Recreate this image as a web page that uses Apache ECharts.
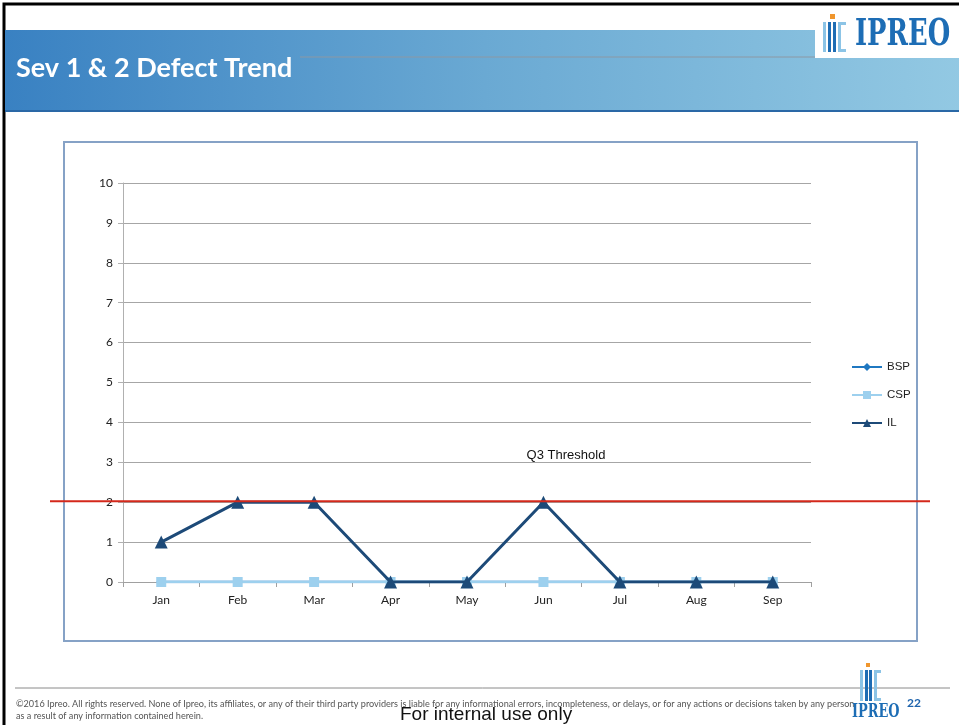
<!DOCTYPE html>
<html>
<head>
<meta charset="utf-8">
<script src="https://cdn.jsdelivr.net/npm/echarts@6/dist/echarts.min.js"></script>
<style>
  html, body { margin: 0; padding: 0; background: #fff; }
  #chart { width: 959px; height: 725px; }
</style>
</head>
<body>
<div id="chart"></div>
<script>
// Monthly Sev 1 & 2 defect counts per product line
const months = ['Jan', 'Feb', 'Mar', 'Apr', 'May', 'Jun', 'Jul', 'Aug', 'Sep'];
const bspDefects = [0, 0, 0, 0, 0, 0, 0, 0, 0];
const cspDefects = [0, 0, 0, 0, 0, 0, 0, 0, 0];
const ilDefects = [1, 2, 2, 0, 0, 2, 0, 0, 0];
const yTicks = [0, 1, 2, 3, 4, 5, 6, 7, 8, 9, 10];
const thresholdValue = 2;
const thresholdLabel = 'Q3 Threshold';

const chart = echarts.init(document.getElementById('chart'));

const sans = 'Lato, "Open Sans", sans-serif';

// Slide frame, header band, logos and footer
function slideGraphics() {
  return [
    // outer frame
    { type: 'rect', shape: { x: 4, y: 4, width: 1000, height: 800 }, style: { fill: 'none', stroke: '#000', lineWidth: 3 }, z: 1 },
    // header band
    { type: 'rect', shape: { x: 5, y: 30, width: 960, height: 81 },
      style: { fill: new echarts.graphic.LinearGradient(0, 0, 1, 0, [
        { offset: 0, color: '#3981c2' }, { offset: 0.5, color: '#6aa9d3' }, { offset: 1, color: '#93c9e3' }]) }, z: 1 },
    { type: 'line', shape: { x1: 5, y1: 111, x2: 959, y2: 111 }, style: { stroke: '#2a68a6', lineWidth: 2 }, z: 2 },
    { type: 'line', shape: { x1: 300, y1: 57, x2: 950, y2: 57 }, style: { stroke: '#8c98a4', lineWidth: 1 }, z: 2 },
    { type: 'text', x: 16, y: 68, style: { text: 'Sev 1 & 2 Defect Trend', fill: '#fff', font: 'bold 27px ' + sans, textVerticalAlign: 'middle' }, z: 3 },
    // header logo
    { type: 'rect', shape: { x: 815, y: 12, width: 144, height: 46 }, style: { fill: '#fff' }, z: 3 },
    { type: 'rect', shape: { x: 830, y: 14, width: 5, height: 5 }, style: { fill: '#f0962d' }, z: 4 },
    { type: 'rect', shape: { x: 823, y: 22, width: 3, height: 30 }, style: { fill: '#8cc4e6' }, z: 4 },
    { type: 'rect', shape: { x: 828, y: 22, width: 3, height: 30 }, style: { fill: '#1e6db4' }, z: 4 },
    { type: 'rect', shape: { x: 833, y: 22, width: 3, height: 30 }, style: { fill: '#1e6db4' }, z: 4 },
    { type: 'rect', shape: { x: 838, y: 22, width: 3, height: 30 }, style: { fill: '#8cc4e6' }, z: 4 },
    { type: 'rect', shape: { x: 838, y: 22, width: 8, height: 3 }, style: { fill: '#8cc4e6' }, z: 4 },
    { type: 'rect', shape: { x: 838, y: 49, width: 8, height: 3 }, style: { fill: '#8cc4e6' }, z: 4 },
    { type: 'text', x: 855, y: 35, style: { text: 'IPREO', fill: '#1d6db5', font: 'bold 38px "DejaVu Serif"', textVerticalAlign: 'middle' }, scaleX: 0.68, z: 4 },
    // chart frame
    { type: 'rect', shape: { x: 64, y: 142, width: 853, height: 499 }, style: { fill: 'none', stroke: '#86a2c6', lineWidth: 2 }, z: 1 },
    // footer
    { type: 'line', shape: { x1: 15, y1: 688, x2: 950, y2: 688 }, style: { stroke: '#8a8a8a', lineWidth: 1 }, z: 2 },
    { type: 'text', x: 16, y: 704, style: { text: '©2016 Ipreo. All rights reserved. None of Ipreo, its affiliates, or any of their third party providers is liable for any informational errors, incompleteness, or delays, or for any actions or decisions taken by any person', fill: '#555', font: '9.1px ' + sans, textVerticalAlign: 'middle' }, z: 3 },
    { type: 'text', x: 16, y: 716, style: { text: 'as a result of any information contained herein.', fill: '#555', font: '9.1px ' + sans, textVerticalAlign: 'middle' }, z: 3 },
    { type: 'text', x: 400, y: 715, style: { text: 'For internal use only', fill: '#111', font: '19px "Liberation Sans"', textVerticalAlign: 'middle' }, z: 3 },
    { type: 'text', x: 907, y: 703, style: { text: '22', fill: '#1f64ad', font: 'bold 12px ' + sans, textVerticalAlign: 'middle' }, z: 5 },
    // footer logo
    { type: 'rect', shape: { x: 866, y: 663, width: 4, height: 4 }, style: { fill: '#f0962d' }, z: 4 },
    { type: 'rect', shape: { x: 860, y: 670, width: 3, height: 31 }, style: { fill: '#8cc4e6' }, z: 4 },
    { type: 'rect', shape: { x: 865, y: 670, width: 3, height: 31 }, style: { fill: '#1e6db4' }, z: 4 },
    { type: 'rect', shape: { x: 869, y: 670, width: 3, height: 31 }, style: { fill: '#1e6db4' }, z: 4 },
    { type: 'rect', shape: { x: 874, y: 670, width: 3, height: 31 }, style: { fill: '#8cc4e6' }, z: 4 },
    { type: 'rect', shape: { x: 874, y: 670, width: 7, height: 3 }, style: { fill: '#8cc4e6' }, z: 4 },
    { type: 'rect', shape: { x: 874, y: 698, width: 7, height: 3 }, style: { fill: '#8cc4e6' }, z: 4 },
    { type: 'text', x: 852, y: 712, style: { text: 'IPREO', fill: '#1d6db5', font: 'bold 19px "DejaVu Serif"', textVerticalAlign: 'middle' }, scaleX: 0.68, z: 4 }
  ];
}

chart.setOption({
  animation: false,
  backgroundColor: '#fff',
  textStyle: { fontFamily: sans },
  grid: { left: 123, right: 148, top: 183, bottom: 143 },
  legend: {
    orient: 'vertical',
    left: 846,
    top: 356,
    itemGap: 16,
    itemWidth: 30,
    itemHeight: 10,
    textStyle: { fontSize: 11.5, color: '#222', fontFamily: '"Liberation Sans", sans-serif' },
    data: ['BSP', 'CSP', 'IL']
  },
  xAxis: {
    type: 'category',
    data: months,
    boundaryGap: true,
    axisLine: { lineStyle: { color: '#a0a0a0', width: 1 } },
    axisTick: { show: true, length: 5, lineStyle: { color: '#a0a0a0' } },
    axisLabel: { color: '#222', fontSize: 12, margin: 12 }
  },
  yAxis: {
    type: 'value',
    min: yTicks[0],
    max: yTicks[yTicks.length - 1],
    interval: 1,
    axisLine: { show: true, lineStyle: { color: '#b0b0b0' } },
    axisTick: { show: true, length: 5, lineStyle: { color: '#b0b0b0' } },
    axisLabel: { color: '#222', fontSize: 12, margin: 10 },
    splitLine: { lineStyle: { color: '#a6a6a6', width: 1 } }
  },
  series: [
    { name: 'BSP', type: 'line', data: bspDefects, symbol: 'diamond', symbolSize: 10,
      itemStyle: { color: '#1f78c1' }, lineStyle: { color: '#1f78c1', width: 2.5 }, z: 2 },
    { name: 'CSP', type: 'line', data: cspDefects, symbol: 'rect', symbolSize: 10,
      itemStyle: { color: '#9dd0ee' }, lineStyle: { color: '#9dd0ee', width: 2.5 }, z: 3 },
    { name: 'IL', type: 'line', data: ilDefects, symbol: 'triangle', symbolSize: 13,
      itemStyle: { color: '#1d4a78' }, lineStyle: { color: '#1d4a78', width: 3 }, z: 4 }
  ],
  graphic: slideGraphics()
});

// Threshold line spans past the plot frame; position it from the y scale
const yPix = chart.convertToPixel({ yAxisIndex: 0 }, thresholdValue);
chart.setOption({
  graphic: slideGraphics().concat([
    { type: 'line', shape: { x1: 50, y1: yPix - 1, x2: 930, y2: yPix - 1 }, style: { stroke: '#d4281b', lineWidth: 2 }, z: 10 },
    { type: 'text', x: 566, y: 455, style: { text: thresholdLabel, fill: '#111', font: '13px "Liberation Sans"', textAlign: 'center', textVerticalAlign: 'middle' }, z: 10 }
  ])
});
</script>
</body>
</html>
